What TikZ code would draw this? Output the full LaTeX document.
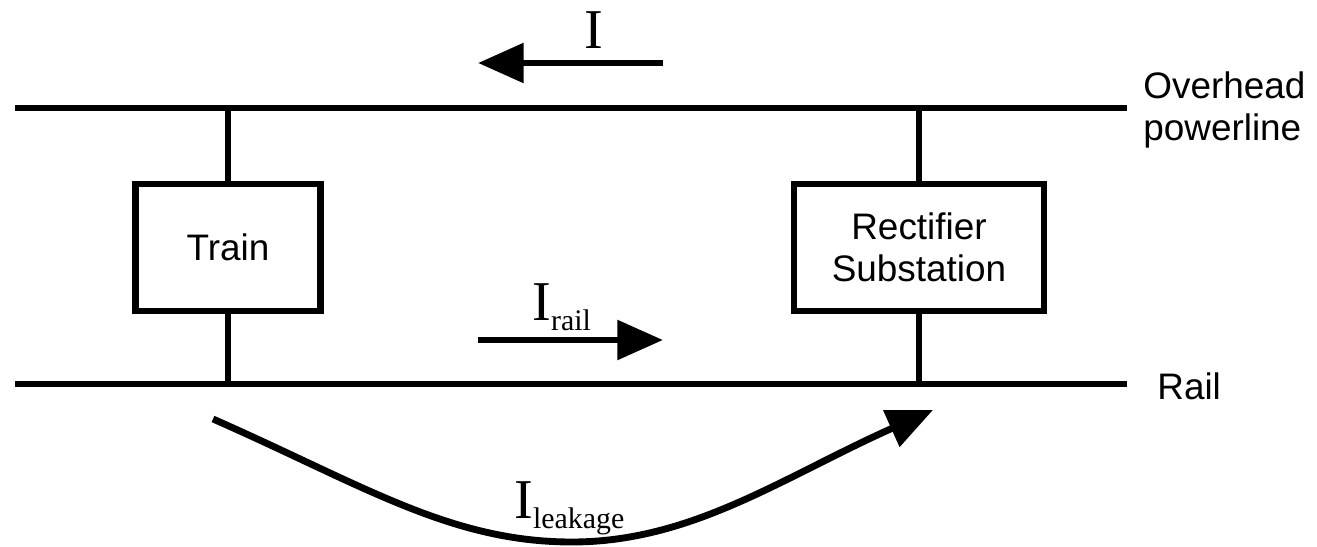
\documentclass[tikz,border=0pt]{standalone}
\usepackage{fontspec}
\setmainfont{Liberation Sans}
\newfontfamily\timesfont{Liberation Serif}
\usetikzlibrary{arrows.meta}
\tikzset{
    unit/.style={
        draw,
        line width=3.9pt,
        fill=white,
        inner sep=0pt,
        minimum height=2.54cm,
        align=center,
        font=\fontsize{21}{24}\selectfont
    },
    wire/.style={line width=3.9pt},
    current/.style={
        line width=3.9pt,
        -{Triangle[length=26pt, width=22pt]}
    },
    tag/.style={font=\fontsize{21}{24}\selectfont, align=left, inner sep=0pt}
}
\newcommand{\curlab}[1]{{\timesfont\fontsize{32}{32}\selectfont I\fontsize{17}{17}\selectfont\raisebox{-5.7pt}{#1}}}

\begin{document}
\begin{tikzpicture}[x=0.02cm, y=-0.02cm]
    \useasboundingbox (0,0) rectangle (1317,547);
    % Lines
    \coordinate (ohL) at (15,108);
    \coordinate (ohR) at (1127,108);
    \coordinate (rlL) at (15,384);
    \coordinate (rlR) at (1127,384);
    \draw[wire] (ohL) -- (ohR);
    \draw[wire] (rlL) -- (rlR);

    % Units
    \node[unit, minimum width=3.7cm] (train) at (228,247.5) {Train};
    \node[unit, minimum width=5.0cm] (rect) at (919,247.5) {Rectifier\\Substation};
    \draw[wire] (train.north) -- (train.north |- ohL);
    \draw[wire] (train.south) -- (train.south |- rlL);
    \draw[wire] (rect.north) -- (rect.north |- ohL);
    \draw[wire] (rect.south) -- (rect.south |- rlL);

    % Labels
    \node[tag, anchor=west] (ohlab) at (1143,110) {Overhead\\powerline};
    \node[tag, anchor=west] (raillab) at (1157,386) {Rail};

    % Currents
    \coordinate (iS) at (663,63);
    \coordinate (iE) at (478,63);
    \draw[current] (iS) -- (iE);
    \node[anchor=base, inner sep=0pt] (ilab) at (594,49) {\curlab{}};

    \coordinate (rS) at (478,340);
    \coordinate (rE) at (663,340);
    \draw[current] (rS) -- (rE);
    \node[anchor=base west, inner sep=0pt] (rlab) at (532,320) {\curlab{rail}};

    \coordinate (lkS) at (213,419);
    \coordinate (lkB) at (572,542);
    \coordinate (lkE) at (933,410);
    \draw[current] (lkS) .. controls (363,485) and (450,542) .. (lkB)
        .. controls (692,542) and (783,477) .. (lkE);
    \node[anchor=base west, inner sep=0pt] (lklab) at (514,518) {\curlab{leakage}};
\end{tikzpicture}
\end{document}
